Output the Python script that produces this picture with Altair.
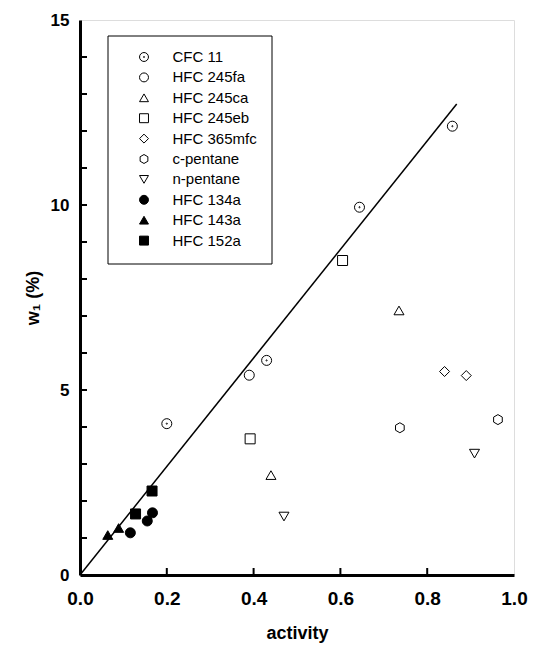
import altair as alt
import pandas as pd

# ---- data ----
series_order = ["CFC 11", "HFC 245fa", "HFC 245ca", "HFC 245eb", "HFC 365mfc",
                "c-pentane", "n-pentane", "HFC 134a", "HFC 143a", "HFC 152a"]

cfc11_x = [0.200, 0.430, 0.644, 0.858]
cfc11_y = [4.09, 5.80, 9.94, 12.13]
hfc245fa_x = [0.390]
hfc245fa_y = [5.40]
hfc245ca_x = [0.440, 0.735]
hfc245ca_y = [2.70, 7.15]
hfc245eb_x = [0.392, 0.605]
hfc245eb_y = [3.68, 8.50]
hfc365mfc_x = [0.840, 0.890]
hfc365mfc_y = [5.50, 5.39]
cpentane_x = [0.737, 0.963]
cpentane_y = [3.98, 4.20]
npentane_x = [0.470, 0.909]
npentane_y = [1.58, 3.28]
hfc134a_x = [0.116, 0.155, 0.167]
hfc134a_y = [1.14, 1.46, 1.68]
hfc143a_x = [0.064, 0.089]
hfc143a_y = [1.08, 1.27]
hfc152a_x = [0.128, 0.166]
hfc152a_y = [1.65, 2.27]

line_x = [0.0, 0.868]
line_y = [0.0, 12.73]

x_tick_values = [0.0, 0.2, 0.4, 0.6, 0.8, 1.0]
y_label_values = [0, 5, 10, 15]
y_minor_ticks = list(range(1, 15))
x_minor_ticks = [0.2, 0.4, 0.6, 0.8]

# ---- build tables ----
xs = [cfc11_x, hfc245fa_x, hfc245ca_x, hfc245eb_x, hfc365mfc_x,
      cpentane_x, npentane_x, hfc134a_x, hfc143a_x, hfc152a_x]
ys = [cfc11_y, hfc245fa_y, hfc245ca_y, hfc245eb_y, hfc365mfc_y,
      cpentane_y, npentane_y, hfc134a_y, hfc143a_y, hfc152a_y]
rows = []
for name, xl, yl in zip(series_order, xs, ys):
    for a, b in zip(xl, yl):
        rows.append({"series": name, "activity": a, "w": b})
pts = pd.DataFrame(rows)
line_df = pd.DataFrame({"activity": line_x, "w": line_y})
xt_df = pd.DataFrame({"t": x_minor_ticks})
yt_df = pd.DataFrame({"t": y_minor_ticks})

circle_dot = ("M-1,0A1,1,0,1,0,1,0A1,1,0,1,0,-1,0Z "
              "M-0.12,0A0.12,0.12,0,1,0,0.12,0A0.12,0.12,0,1,0,-0.12,0Z")
hexagon = "M0,-1L0.866,-0.5L0.866,0.5L0,1L-0.866,0.5L-0.866,-0.5Z"
shape_range = [circle_dot, "circle", "triangle-up", "square", "diamond",
               hexagon, "triangle-down", "circle", "triangle-up", "square"]
fill_range = ["transparent"] * 7 + ["black"] * 3
stroke_range = ["black"] * 10

W, H = 434, 555
FONT = "Liberation Sans"

xscale = alt.Scale(domain=[0, 1], nice=False, zero=False)
yscale = alt.Scale(domain=[0, 15], nice=False, zero=False)

x_axis = alt.Axis(values=x_tick_values, format=".1f", ticks=False, grid=False,
                  title="activity", labelFontSize=19, labelFontWeight="bold",
                  titleFontSize=18, titleFontWeight="bold", labelPadding=14,
                  titlePadding=16, domainWidth=3, domainColor="black", labelFlush=False,
                  labelColor="black", titleColor="black", labelFont=FONT, titleFont=FONT)
y_axis = alt.Axis(values=y_label_values, format="d", ticks=False, grid=False,
                  title="w₁ (%)", labelFontSize=17, labelFontWeight="bold",
                  titleFontSize=18, titleFontWeight="bold", labelPadding=11,
                  titlePadding=8, domainWidth=3, domainColor="black", labelFlush=False,
                  labelColor="black", titleColor="black", labelFont=FONT, titleFont=FONT)

line = alt.Chart(line_df).mark_line(color="black", strokeWidth=1.5).encode(
    x=alt.X("activity:Q", scale=xscale, axis=x_axis),
    y=alt.Y("w:Q", scale=yscale, axis=y_axis),
)

legend = alt.Legend(title=None, orient="none", legendX=27.5, legendY=15.5,
                    strokeColor="black", fillColor="white",
                    padding=14, symbolOffset=15, labelOffset=21,
                    rowPadding=4.4, symbolSize=80, symbolStrokeWidth=1,
                    labelFontSize=15, labelFont=FONT,
                    labelColor="black", labelLimit=300)

points = alt.Chart(pts).mark_point(filled=True, strokeWidth=1,
                                   size=100, opacity=1).encode(
    x=alt.X("activity:Q", scale=xscale),
    y=alt.Y("w:Q", scale=yscale),
    shape=alt.Shape("series:N", scale=alt.Scale(domain=series_order, range=shape_range),
                    legend=legend, sort=series_order),
    fill=alt.Fill("series:N", scale=alt.Scale(domain=series_order, range=fill_range),
                  legend=legend, sort=series_order),
    stroke=alt.Stroke("series:N", scale=alt.Scale(domain=series_order, range=stroke_range),
                      legend=legend, sort=series_order),
)

xticks = alt.Chart(xt_df).mark_rule(color="black", strokeWidth=2).encode(
    x=alt.X("t:Q", scale=xscale),
    y=alt.value(H), y2=alt.value(H - 7),
)
yticks = alt.Chart(yt_df).mark_rule(color="black", strokeWidth=2).encode(
    y=alt.Y("t:Q", scale=yscale),
    x=alt.value(0), x2=alt.value(7),
)

chart = alt.layer(line, xticks, yticks, points).properties(
    width=W, height=H,
    autosize=alt.AutoSizeParams(type="none"),
    padding={"left": 72, "top": 12, "right": 14, "bottom": 70},
).configure_view(stroke="black", strokeWidth=2.5).configure_legend(
    strokeWidth=2
).configure(background="white")

chart.save("out.html", embed_options={"renderer": "svg", "actions": False})
